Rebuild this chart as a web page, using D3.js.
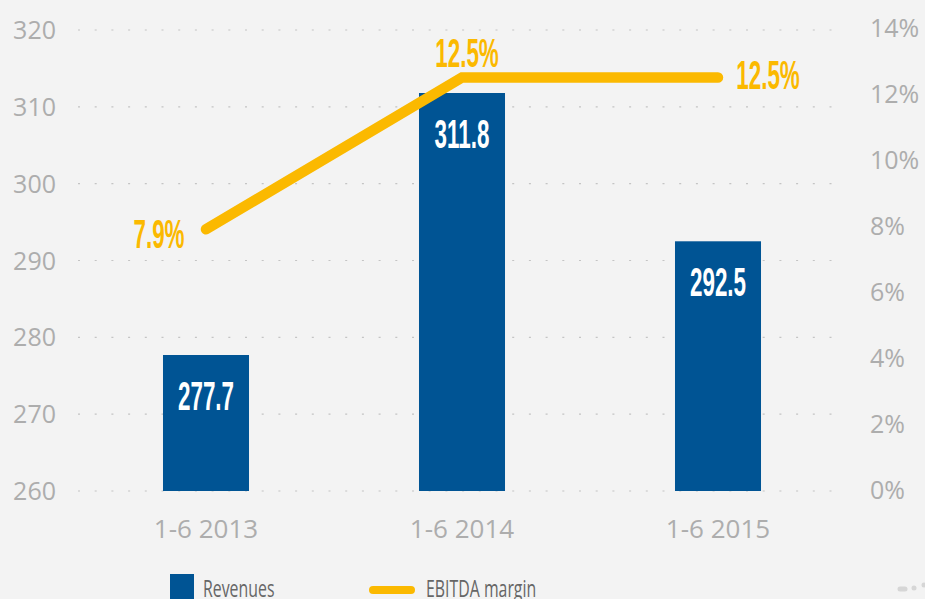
<!DOCTYPE html>
<html>
<head>
<meta charset="utf-8">
<script src="https://cdn.jsdelivr.net/npm/d3@7"></script>
<style>
  body { margin: 0; background: #f3f3f3; }
  svg { display: block; }
</style>
</head>
<body>
<svg></svg>
<script>
const WIDTH = 925;
const HEIGHT = 599;

const categories = ["1-6 2013", "1-6 2014", "1-6 2015"];
const revenues = [277.7, 311.8, 292.5];
const margins = [7.9, 12.5, 12.5];
const leftTicks = [260, 270, 280, 290, 300, 310, 320];
const rightTicks = [0, 2, 4, 6, 8, 10, 12, 14];
const legendLabels = ["Revenues", "EBITDA margin"];

const BLUE = "#005494";
const GOLD = "#fbb900";
const GREY = "#adadad";
const LABEL_FONT = "'Liberation Sans', Arial, sans-serif";
const AXIS_FONT = "'Open Sans', sans-serif";

var svg = d3.select("svg")
    .attr("width", WIDTH)
    .attr("height", HEIGHT);

svg.append("rect")
    .attr("width", WIDTH)
    .attr("height", HEIGHT)
    .attr("fill", "#f3f3f3");

const x = d3.scaleBand()
    .domain(categories)
    .range([78, 846])
    .paddingInner(0.664)
    .paddingOuter(0.332);

const xc = (c) => x(c) + x.bandwidth() / 2;

const y = d3.scaleLinear().domain([260, 320]).range([491, 30]);
const y2 = d3.scaleLinear().domain([0, 14]).range([490, 28]);

// gridlines
svg.append("g")
    .selectAll("line")
    .data(leftTicks)
    .join("line")
    .attr("x1", 78)
    .attr("x2", 846)
    .attr("y1", d => y(d))
    .attr("y2", d => y(d))
    .attr("stroke", "#c4c4c4")
    .attr("stroke-width", 1.2)
    .attr("stroke-dasharray", "2 14.7");

// left axis
svg.append("g")
    .selectAll("text")
    .data(leftTicks)
    .join("text")
    .attr("x", 56)
    .attr("y", d => y(d) + 9)
    .attr("text-anchor", "end")
    .style("font-family", AXIS_FONT)
    .style("font-size", "25px")
    .style("fill", GREY)
    .text(d => d);

// right axis
svg.append("g")
    .selectAll("text")
    .data(rightTicks)
    .join("text")
    .attr("x", 870)
    .attr("y", d => y2(d) + 9)
    .style("font-family", AXIS_FONT)
    .style("font-size", "25px")
    .style("fill", GREY)
    .text(d => d + "%");

// x axis labels
svg.append("g")
    .selectAll("text")
    .data(categories)
    .join("text")
    .attr("x", d => xc(d))
    .attr("y", 538)
    .attr("text-anchor", "middle")
    .style("font-family", AXIS_FONT)
    .style("font-size", "26px")
    .style("fill", GREY)
    .text(d => d);

// bars
svg.append("g")
    .selectAll("rect")
    .data(revenues)
    .join("rect")
    .attr("x", (d, i) => x(categories[i]))
    .attr("y", d => y(d))
    .attr("width", x.bandwidth())
    .attr("height", d => y(260) - y(d))
    .attr("fill", BLUE);

// bar values
svg.append("g")
    .selectAll("text")
    .data(revenues)
    .join("text")
    .attr("transform", (d, i) => `translate(${xc(categories[i])},${y(d) + 55}) scale(0.56,1)`)
    .attr("text-anchor", "middle")
    .style("font-family", LABEL_FONT)
    .style("font-weight", "bold")
    .style("font-size", "40px")
    .style("fill", "white")
    .text(d => d.toFixed(1));

// margin line
var lineGenerator = d3.line()
    .x((d, i) => xc(categories[i]))
    .y(d => y2(d));

svg.append("path")
    .attr("d", lineGenerator(margins))
    .attr("fill", "none")
    .attr("stroke", GOLD)
    .attr("stroke-width", 10.5)
    .attr("stroke-linecap", "round")
    .attr("stroke-linejoin", "miter");

// margin labels: left of first point, above second, right of third
const labelShift = [[-47, 19], [5, -11], [50, 11]];
svg.append("g")
    .selectAll("text")
    .data(margins)
    .join("text")
    .attr("transform", (d, i) =>
        `translate(${xc(categories[i]) + labelShift[i][0]},${y2(d) + labelShift[i][1]}) scale(0.56,1)`)
    .attr("text-anchor", "middle")
    .style("font-family", LABEL_FONT)
    .style("font-weight", "bold")
    .style("font-size", "40px")
    .style("fill", GOLD)
    .text(d => d.toFixed(1) + "%");

// legend
var legend = svg.append("g");
legend.append("rect")
    .attr("x", 170)
    .attr("y", 574)
    .attr("width", 24)
    .attr("height", 30)
    .attr("fill", BLUE);
legend.append("line")
    .attr("x1", 373)
    .attr("x2", 411)
    .attr("y1", 590)
    .attr("y2", 590)
    .attr("stroke", GOLD)
    .attr("stroke-width", 8)
    .attr("stroke-linecap", "round");
legend.selectAll("text")
    .data(legendLabels)
    .join("text")
    .attr("transform", (d, i) => `translate(${i === 0 ? 203 : 426},597) scale(0.69,1)`)
    .style("font-family", AXIS_FONT)
    .style("font-size", "23px")
    .style("fill", "#666")
    .text(d => d);

// small grey marks bottom right
svg.append("line")
    .attr("x1", 900).attr("x2", 905)
    .attr("y1", 589).attr("y2", 589)
    .attr("stroke", "#d6d6d6").attr("stroke-width", 5)
    .attr("stroke-linecap", "round");
svg.append("circle")
    .attr("cx", 914).attr("cy", 588).attr("r", 2.5)
    .attr("fill", "#d6d6d6");
svg.append("circle")
    .attr("cx", 924).attr("cy", 585).attr("r", 2.5)
    .attr("fill", "#d6d6d6");
</script>
</body>
</html>
